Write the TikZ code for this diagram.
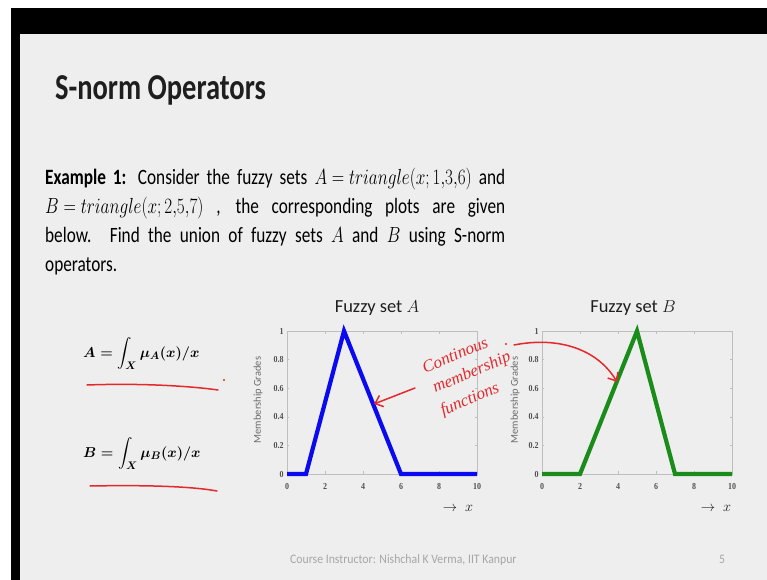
\documentclass[tikz,border=0pt]{standalone}
\usepackage{amsmath}
\usepackage{fontspec}
\setmainfont{Carlito}
\newfontfamily\numfont{Liberation Serif}
\newfontfamily\handfont{Liberation Serif}
\usetikzlibrary{arrows.meta}
\newcommand{\vsc}[2][1.28]{\scalebox{1}[#1]{#2}}
\definecolor{slidebg}{HTML}{EEEEEE}
\definecolor{ink}{HTML}{1E1E1E}
\definecolor{bodyink}{HTML}{2E2E2E}
\definecolor{formink}{HTML}{4A4A4A}
\definecolor{axgray}{HTML}{BEBEBE}
\definecolor{ticktxt}{HTML}{505050}
\definecolor{labgray}{HTML}{6A6A6A}
\definecolor{mblue}{HTML}{0A0AF0}
\definecolor{mgreen}{HTML}{1A8C1A}
\definecolor{pen}{HTML}{E4282C}
\definecolor{foot}{HTML}{A6A6A6}
\newsavebox{\fboxA}
\newsavebox{\fboxB}
\newsavebox{\bodybox}
\tikzset{
  ticklab/.style={font=\numfont\bfseries\fontsize{8}{9}\selectfont, text=ticktxt, inner sep=0pt},
  axbox/.style={draw=axgray, line width=0.6bp},
  curve/.style={line width=4.2bp, line join=miter},
  penline/.style={draw=pen, line width=1.5bp, line cap=round},
  penarrow/.style={penline, -{Straight Barb[length=7bp,width=12bp]}},
  pentext/.style={text=pen, font=\handfont\itshape\fontsize{17}{18}\selectfont, inner sep=0pt, rotate=23},
  ptitle/.style={font=\fontsize{18.5}{20}\selectfont, text=ink, inner sep=0pt},
  ylab/.style={font=\fontsize{10.5}{12}\selectfont, text=labgray, inner sep=0pt, rotate=90},
  xlab/.style={font=\fontsize{15}{16}\selectfont, text=ink, inner sep=0pt},
  formtext/.style={text=formink, inner sep=0pt, anchor=base west},
}
\newcommand{\fuzzyplot}[4]{%
  \begin{scope}[shift={(#2,474)}, x=19bp, y=143bp]
    \draw[axbox] (0,0) rectangle (10,1);
    \foreach \t in {0,2,...,10} {
      \draw[axbox] (\t,0) -- ++(0,0.018) (\t,1) -- ++(0,-0.018);
      \node[ticklab] (#1x\t) at (\t,-0.084) {\vsc[1.15]{\t}};
    }
    \foreach \k/\l in {0/0,2/0.2,4/0.4,6/0.6,8/0.8,10/1} {
      \draw[axbox] (0,\k/10) -- ++(0.12,0) (10,\k/10) -- ++(-0.12,0);
      \node[ticklab, anchor=east] (#1y\k) at (-0.17,\k/10) {\vsc[1.15]{\l}};
    }
    \draw[curve, #3] #4;
  \end{scope}}
\begin{document}
\sbox{\fboxA}{\fontsize{15.2}{19}\selectfont\mathversion{bold}$A=\displaystyle\int_{X}\mu_{A}(x)/x$}%
\sbox{\fboxB}{\fontsize{15.2}{19}\selectfont\mathversion{bold}$B=\displaystyle\int_{X}\mu_{B}(x)/x$}%
\sbox{\bodybox}{\vsc[1.27]{\parbox[t]{460bp}{\fontsize{17.3}{22.8}\selectfont
   \thickmuskip=5mu \medmuskip=4mu
   \makebox[460bp][s]{\textbf{Example 1:} Consider the fuzzy sets $A=triangle(x;1{,}3{,}6)$ and}\\
   \makebox[460bp][s]{$B=triangle(x;2{,}5{,}7)$ , the corresponding plots are given}\\
   \makebox[460bp][s]{below. Find the union of fuzzy sets $A$ and $B$ using S-norm}\\
   operators.}}}%
\begin{tikzpicture}[x=1bp,y=-1bp]
\useasboundingbox (0,0) rectangle (767,580);
\fill[white] (0,0) rectangle (767,580);
\fill[black] (11,8) rectangle (767,580);
\fill[slidebg] (20,34) rectangle (767,580);

\node[anchor=base west, inner sep=0pt, text=ink] (title) at (55,100)
  {\vsc{\fontsize{28.6}{32}\selectfont\bfseries S-norm Operators}};

\node[anchor=base west, inner sep=0pt, text=bodyink] (body) at (45,185) {\usebox{\bodybox}};

\node[formtext] (fA) at (83,357) {\usebox{\fboxA}};
\node[formtext] (fB) at (83,457) {\usebox{\fboxB}};

\fuzzyplot{pa}{287}{mblue}{(0,0) -- (1,0) -- (3,1) -- (6,0) -- (10,0)}
\fuzzyplot{pb}{542}{mgreen}{(0,0) -- (2,0) -- (5,1) -- (7,0) -- (10,0)}

\node[ptitle] (tA) at (377,308) {Fuzzy set $A$};
\node[ptitle] (tB) at (633,308) {Fuzzy set $B$};
\node[ylab] (yA) at (258,400) {Membership Grades};
\node[ylab] (yB) at (515,400) {Membership Grades};
\node[xlab] (xA) at (458,508) {$\rightarrow\;x$};
\node[xlab] (xB) at (716,508) {$\rightarrow\;x$};

\node[anchor=base west, inner sep=0pt, text=foot] (foot) at (290,563)
  {\vsc[1.1]{\fontsize{11.8}{13}\selectfont Course Instructor: Nishchal K Verma, IIT Kanpur}};
\node[anchor=base, inner sep=0pt, text=foot] (page) at (722,563)
  {\vsc[1.1]{\fontsize{11.8}{13}\selectfont 5}};

\draw[penline] (87,385) .. controls (140,383) and (190,386) .. (218,390);
\fill[pen] (224,380) circle (1.2bp);
\draw[penline] (90,486) .. controls (140,485) and (190,486) .. (217,491);

\node[pentext] (h1) at (455,355) {Continous};
\node[pentext] (h2) at (472,373) {membership};
\node[pentext] (h3) at (470,400) {functions};
\fill[pen] (506,344) circle (1.1bp);

\coordinate (a1s) at (415,388);
\coordinate (a1e) at (374,404);
\draw[penarrow] (a1s) -- (a1e);
\coordinate (a2s) at (514,345);
\coordinate (a2e) at (617,382);
\draw[penarrow] (a2s) .. controls (560,336) and (598,350) .. (a2e);
\end{tikzpicture}
\end{document}
